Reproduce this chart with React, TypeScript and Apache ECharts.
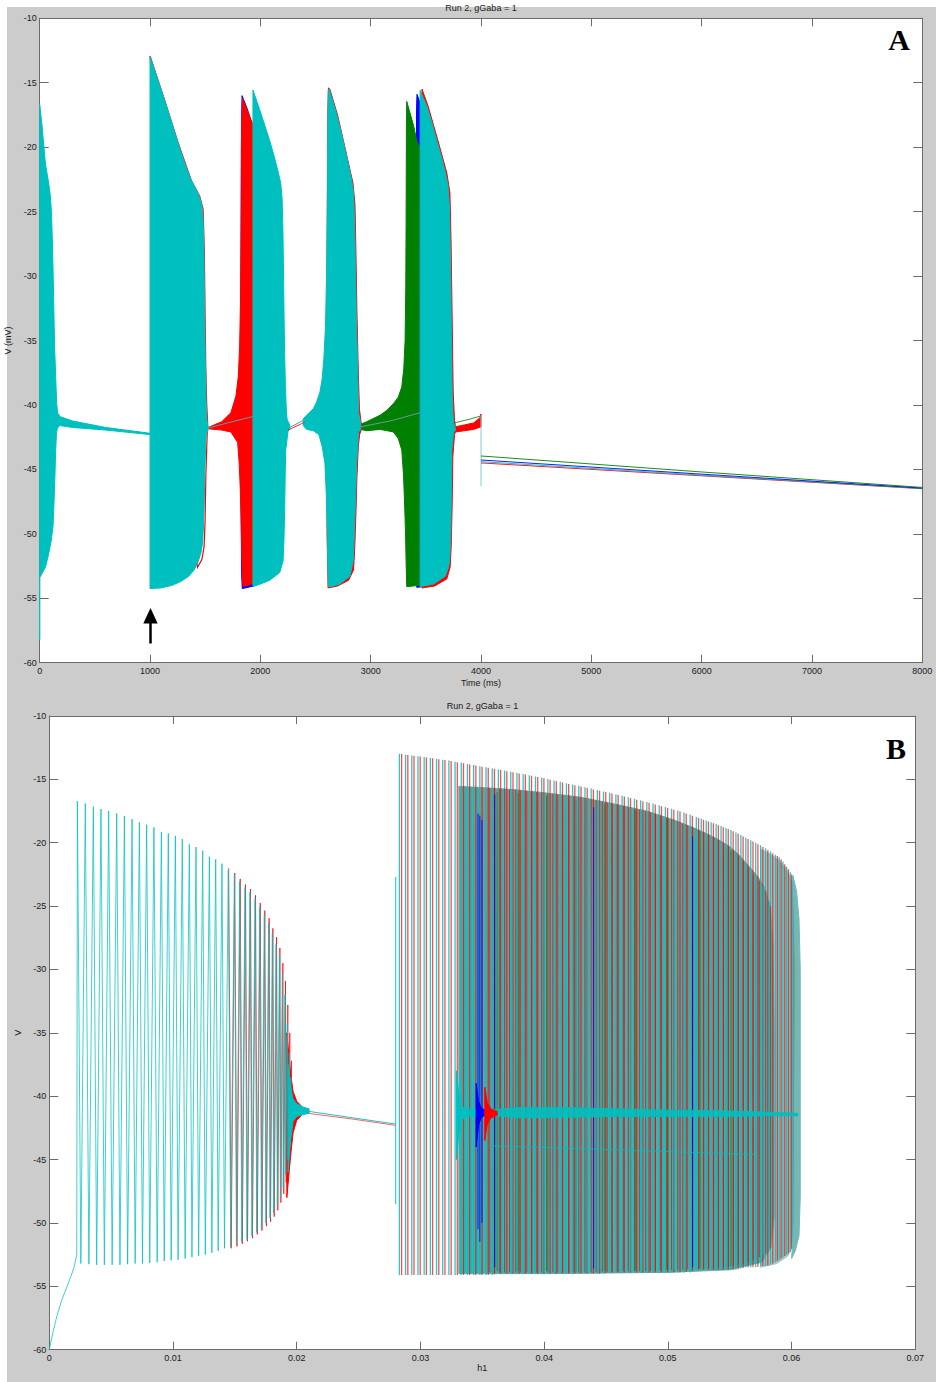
import React, { useEffect, useRef } from "react";
import * as echarts from "echarts";

const CYAN = "#00BFBF";
const RED = "#FF0000";
const BLUE = "#0000FF";
const GREEN = "#008000";
const AXIS = "#6b6b6b";
const TEXT = "#1a1a1a";
const FONT = "'Liberation Sans', Arial, Helvetica, sans-serif";

const TITLE = "Run 2, gGaba = 1";
const X_NAME_A = "Time (ms)";
const Y_NAME_A = "V (mV)";
const X_NAME_B = "h1";
const Y_NAME_B = "V";

// ---------------- Panel A : V vs time (burst envelopes, [t ms, V mV]) ----------------
const cyan1Upper = [[0,-16.7],[21,-18.3],[52,-21.3],[80,-22.7],[97,-23.8],[106,-25],[114,-27],[121,-29.5],[128,-32.5],[135,-35.5],[145,-37.8],[153,-39.8],[162,-40.6],[182,-40.9],[300,-41.25],[600,-41.75],[1000,-42.2]];
const cyan1Lower = [[0,-58.2],[0,-53.4],[20,-53.1],[52,-52.6],[80,-51.6],[103,-50.6],[121,-49.4],[130,-47.5],[138,-45.5],[145,-43.5],[152,-42.2],[160,-41.8],[182,-41.6],[300,-41.75],[600,-41.95],[1000,-42.3]];
const cyan2Upper = [[1000,-12.93],[1060,-14.5],[1127,-16.2],[1190,-17.9],[1248,-19.5],[1310,-21.1],[1370,-22.5],[1420,-23.3],[1450,-23.9],[1470,-24.5],[1481,-25.6],[1488,-27.8],[1492,-30.2],[1496,-33.5],[1500,-36.1],[1508,-39.5],[1515,-41.1],[1527,-41.7]];
const cyan2Lower = [[1000,-54.25],[1100,-54.2],[1200,-54.0],[1279,-53.7],[1350,-53.3],[1400,-52.8],[1430,-52.3],[1461,-51.5],[1475,-50.8],[1485,-49.4],[1492,-47.5],[1497,-45],[1503,-43.5],[1509,-42.3],[1527,-41.9]];
const red2Edge = [[1000,-12.93],[1130,-16.3],[1252,-19.6],[1375,-22.6],[1450,-23.8],[1481,-24.8],[1492,-28],[1499,-33],[1505,-37],[1514,-40],[1522,-41.3],[1515,-43],[1506,-45.5],[1499,-49],[1490,-51],[1470,-52],[1430,-52.6]];
const red3Upper = [[1527,-41.75],[1650,-41.3],[1733,-40.6],[1779,-39.3],[1800,-37.8],[1812,-35.5],[1820,-32],[1826,-25],[1830,-18.3],[1838,-16.2],[1880,-17.1],[1935,-18.3]];
const red3Lower = [[1527,-41.85],[1650,-41.95],[1733,-42.1],[1794,-42.9],[1808,-44.5],[1818,-46.5],[1824,-48.5],[1830,-51],[1836,-53.6],[1845,-54.1],[1935,-53.85]];
const blue3Upper = [[1822,-41],[1828,-20],[1834,-16.0],[1880,-17.0],[1940,-18.6]];
const blue3Lower = [[1822,-42],[1830,-53],[1836,-54.25],[1940,-54.05]];
const cyan4Upper = [[1933,-15.56],[1994,-17.1],[2040,-18.3],[2085,-19.5],[2125,-20.7],[2161,-21.9],[2185,-22.8],[2197,-24],[2204,-26.2],[2209,-29],[2214,-32.5],[2220,-36],[2227,-38.5],[2235,-40.3],[2242,-41.1],[2267,-41.6]];
const cyan4Lower = [[1933,-54.1],[2000,-53.9],[2085,-53.6],[2176,-53.0],[2206,-52.1],[2214,-50.5],[2221,-47.9],[2225,-45.5],[2230,-43.5],[2240,-42.8],[2252,-42.0],[2267,-41.9]];
const cyan5Upper = [[2388,-41.1],[2418,-40.8],[2480,-40.3],[2509,-39.8],[2540,-39],[2560,-38],[2575,-36.5],[2590,-34],[2600,-30],[2606,-24.2],[2610,-19],[2615,-15.6],[2624,-15.5],[2691,-17.4],[2740,-19.1],[2782,-20.7],[2820,-22.2],[2840,-23.2],[2850,-24.6],[2857,-27],[2864,-30.2],[2872,-34],[2879,-36.1],[2885,-38.5],[2891,-40.6],[2909,-41.4]];
const cyan5Lower = [[2388,-41.6],[2420,-41.9],[2480,-42.0],[2530,-42.3],[2560,-43.2],[2585,-44.5],[2598,-47],[2605,-49.5],[2610,-52],[2615,-54.1],[2640,-54.1],[2721,-53.9],[2812,-53.3],[2842,-52.1],[2850,-50.5],[2858,-48.5],[2866,-46.5],[2873,-44.5],[2880,-43.5],[2891,-42.1],[2909,-41.9]];
const red5Upper = [[2605,-30],[2612,-17],[2618,-15.4],[2630,-15.5],[2700,-17.5],[2790,-20.9],[2840,-22.8],[2858,-24.5],[2866,-28],[2876,-33],[2888,-37.5],[2898,-40.3],[2915,-41.5]];
const red5Lower = [[2605,-50],[2614,-54.2],[2700,-54.05],[2800,-53.6],[2845,-52.8],[2856,-51],[2866,-48.5],[2876,-45.5],[2888,-43.2],[2900,-42.3],[2915,-41.9]];
const green6Upper = [[2909,-41.5],[2964,-41.3],[3085,-40.8],[3150,-40.4],[3206,-39.9],[3250,-39.4],[3282,-38.6],[3300,-37.2],[3312,-35],[3318,-31],[3321,-26],[3324,-18.3],[3327,-16.45],[3388,-18.3],[3418,-19.5],[3440,-20]];
const green6Lower = [[2909,-41.9],[2964,-42.0],[3085,-41.9],[3150,-42.0],[3206,-42.1],[3250,-42.6],[3282,-43.5],[3298,-45.5],[3309,-48],[3316,-50],[3322,-52.5],[3327,-54.1],[3440,-54.0]];
const blue7Upper = [[3412,-30],[3416,-17],[3420,-15.9],[3445,-16.5],[3470,-17.2]];
const blue7Lower = [[3412,-50],[3418,-54.15],[3470,-54.1]];
const red7Upper = [[3465,-15.5],[3520,-16.8],[3610,-19.5],[3690,-22],[3718,-23.5],[3728,-27],[3738,-33],[3748,-39],[3760,-41.2],[3767,-41.6]];
const red7Lower = [[3465,-54.2],[3580,-54.05],[3690,-53.5],[3720,-52.6],[3730,-51],[3738,-48],[3745,-44],[3760,-42.3],[3767,-42.1]];
const cyan7Upper = [[3448,-15.6],[3509,-16.8],[3555,-18.1],[3600,-19.5],[3640,-20.7],[3676,-21.9],[3700,-22.9],[3712,-24.3],[3719,-26.5],[3725,-29.5],[3730,-33.1],[3735,-36.5],[3739,-39.1],[3746,-40.6],[3752,-41.4],[3767,-41.8]];
const cyan7Lower = [[3448,-54.1],[3570,-53.9],[3676,-53.3],[3706,-52.6],[3715,-52.1],[3725,-50.5],[3730,-47.9],[3733,-45.5],[3736,-43.5],[3742,-43],[3752,-42.1],[3767,-42.0]];
const redTailUpper = [[3767,-41.7],[3850,-41.55],[3933,-41.4],[3990,-41.0],[4000,-40.7]];
const redTailLower = [[3767,-42.1],[3850,-42.0],[3933,-41.9],[4000,-41.7]];

const cyanLinkA1 = [[1527,-41.8],[1700,-41.4],[1933,-40.9]];
const cyanLinkA2 = [[2267,-41.75],[2388,-41.2]];
const redLinkA2 = [[2250,-41.95],[2400,-41.35]];
const cyanLinkA3 = [[2909,-41.7],[3200,-41.2],[3448,-40.6]];
const greenTailA = [[3755,-41.4],[3900,-41.1],[4000,-40.85]];
const cyanStepA = [[4000,-40.8],[4000,-46.3]];
const greenLate = [[4000,-43.96],[6000,-45.2],[8000,-46.4]];
const blueLate = [[4000,-44.27],[6000,-45.37],[8000,-46.45]];
const redLate = [[4000,-44.5],[6000,-45.5],[8000,-46.5]];
const cyanLate = [[4000,-44.4],[6000,-45.45],[8000,-46.48]];

// ---------------- Panel B : V vs h1 ----------------
const leftInitial = [[0,-60],[0.0003,-58.6],[0.0006,-57.4],[0.001,-56.1],[0.0014,-55.1],[0.00175,-54.2],[0.002,-53.5],[0.00222,-52.5]];
const leftSpikeH = [0.00227,0.00291,0.00356,0.00418,0.0048,0.00545,0.00607,0.00669,0.00728,0.00787,0.00846,0.00906,0.00962,0.01019,0.01075,0.01132,0.01186,0.0124,0.01294,0.01345,0.01396,0.01447,0.01496,0.01539,0.01582,0.01622,0.01663,0.01701,0.01738,0.01773,0.01803,0.01833,0.0186,0.01884,0.01905,0.01924,0.0194,0.01952];
const leftSpikePeak = [-16.71,-16.89,-17.15,-17.34,-17.5,-17.68,-17.89,-18.13,-18.39,-18.58,-18.79,-19.15,-19.26,-19.47,-19.71,-20.13,-20.34,-20.63,-21.1,-21.31,-21.65,-22.15,-22.55,-23.07,-23.52,-23.91,-24.44,-25.09,-25.72,-26.33,-27.2,-28.01,-28.94,-30.36,-32.01,-34.25,-36.6,-38.5];
const leftTroughH = [0.00255,0.0032,0.00383,0.00445,0.00508,0.00571,0.00633,0.00694,0.00753,0.00812,0.00872,0.00929,0.00985,0.01041,0.01098,0.01153,0.01207,0.01261,0.01314,0.01365,0.01416,0.01466,0.01513,0.01556,0.01598,0.01638,0.01677,0.01715,0.01751,0.01784,0.01814,0.01843,0.01868,0.01891,0.01911,0.01929,0.01944,0.01956];
const leftTroughV = [-53.2,-53.25,-53.3,-53.3,-53.3,-53.3,-53.25,-53.2,-53.2,-53.15,-53.1,-53.0,-52.95,-52.9,-52.8,-52.7,-52.6,-52.5,-52.35,-52.2,-52.0,-51.85,-51.7,-51.5,-51.3,-51.0,-50.7,-50.4,-50.0,-49.6,-49.2,-48.6,-48.0,-47.2,-46.2,-45.0,-43.8,-42.8];
const leftRedSpikeH = [0.0145,0.01499,0.01543,0.01586,0.01626,0.01667,0.01705,0.01742,0.01777,0.01807,0.01837,0.01864,0.01888,0.01909,0.01928,0.01944,0.01957];
const leftRedPeak = [-22.0,-22.4,-22.85,-23.3,-23.65,-24.15,-24.75,-25.35,-25.95,-26.75,-27.45,-28.3,-29.5,-30.9,-32.8,-35.0,-37.2];
const leftRedTroughH = [0.0147,0.01517,0.0156,0.01602,0.01642,0.01681,0.01719,0.01755,0.01788,0.01818,0.01847,0.01872,0.01895,0.01915,0.01933,0.01948,0.0196];
const leftRedTroughV = [-52.0,-51.85,-51.65,-51.45,-51.2,-50.9,-50.6,-50.25,-49.9,-49.5,-49.0,-48.4,-47.7,-46.8,-45.8,-44.6,-43.6];
const cyanSpindleLUpper = [[0.0193,-37.5],[0.0195,-39.2],[0.0197,-40.2],[0.02,-40.6],[0.0205,-40.85],[0.021,-41.0]];
const cyanSpindleLLower = [[0.0193,-46],[0.0195,-43.5],[0.0197,-42.0],[0.02,-41.6],[0.0205,-41.45],[0.021,-41.35]];
const redSpindleLUpper = [[0.0192,-35],[0.0195,-38.2],[0.0197,-39.6],[0.02,-40.4],[0.0204,-40.8]];
const redSpindleLLower = [[0.0192,-48],[0.0195,-44.8],[0.0197,-42.9],[0.02,-41.9],[0.0204,-41.5]];
const cyanLinkB = [[0.021,-41.2],[0.0245,-41.7],[0.028,-42.2]];
const redLinkB = [[0.0205,-41.3],[0.0245,-41.8],[0.028,-42.3]];
const cyanStepB = [[0.028,-22.7],[0.028,-48.5]];

// outer burst spikes [h1, peak V, trough V]
const outerCyan = [[0.0283,-12.98,-54.1],[0.0288,-13.05,-54.1],[0.0293,-13.11,-54.1],[0.0298,-13.17,-54.1],[0.0303,-13.24,-54.1],[0.0308,-13.31,-54.1],[0.0313,-13.38,-54.1],[0.0318,-13.45,-54.1],[0.0323,-13.52,-54.1],[0.0328,-13.6,-54.1],[0.0333,-13.69,-54.1],[0.0338,-13.78,-54.1],[0.0343,-13.87,-54.1],[0.0348,-13.96,-54.1],[0.0353,-14.05,-54.1],[0.0358,-14.13,-54.1],[0.0363,-14.22,-54.0],[0.0368,-14.3,-54.0],[0.0373,-14.39,-54.0],[0.0378,-14.48,-54.0],[0.0383,-14.57,-54.0],[0.0388,-14.67,-54.0],[0.0393,-14.77,-54.0],[0.0398,-14.86,-54.0],[0.0403,-14.97,-54.0],[0.0408,-15.08,-54.0],[0.0413,-15.19,-54.0],[0.0418,-15.3,-54.0],[0.0423,-15.41,-54.0],[0.0428,-15.51,-54.0],[0.0433,-15.62,-54.0],[0.0438,-15.73,-54.0],[0.0443,-15.84,-54.0],[0.0448,-15.95,-54.0],[0.0453,-16.05,-53.9],[0.0458,-16.17,-53.9],[0.0463,-16.29,-53.9],[0.0468,-16.41,-53.9],[0.0473,-16.53,-53.9],[0.0478,-16.65,-53.9],[0.0483,-16.78,-53.9],[0.0488,-16.91,-53.9],[0.0493,-17.05,-53.9],[0.0498,-17.18,-53.9],[0.0503,-17.31,-53.9],[0.0508,-17.45,-53.9],[0.0513,-17.61,-53.9],[0.0518,-17.78,-53.9],[0.0523,-17.96,-53.7],[0.0527,-18.09,-53.7],[0.0531,-18.24,-53.7],[0.0535,-18.39,-53.7],[0.0539,-18.53,-53.7],[0.0543,-18.68,-53.7],[0.0547,-18.83,-53.7],[0.0551,-18.99,-53.7],[0.0555,-19.19,-53.7],[0.0559,-19.39,-53.6],[0.0563,-19.6,-53.5],[0.0567,-19.8,-53.5],[0.0571,-20.0,-53.5],[0.0575,-20.2,-53.4],[0.0579,-20.43,-53.4],[0.0583,-20.69,-53.3],[0.0587,-20.94,-53.1],[0.059,-21.14,-52.9],[0.0593,-21.48,-52.7],[0.0596,-21.9,-52.5],[0.0599,-22.32,-52.3],[0.0601,-22.6,-52.0],[0.0603,-23.4,-51.6]];
const outerRed = [[0.02848,-13.0,-54.1],[0.02898,-13.07,-54.1],[0.02948,-13.13,-54.1],[0.02998,-13.2,-54.1],[0.03048,-13.27,-54.1],[0.03098,-13.34,-54.1],[0.03148,-13.41,-54.1],[0.03198,-13.48,-54.1],[0.03248,-13.56,-54.1],[0.03298,-13.64,-54.1],[0.03348,-13.73,-54.1],[0.03398,-13.82,-54.1],[0.03448,-13.91,-54.1],[0.03498,-14.0,-54.1],[0.03548,-14.09,-54.1],[0.03598,-14.17,-54.05],[0.03648,-14.26,-54.0],[0.03698,-14.35,-54.0],[0.03748,-14.44,-54.0],[0.03798,-14.53,-54.0],[0.03848,-14.62,-54.0],[0.03898,-14.72,-54.0],[0.03948,-14.82,-54.0],[0.03998,-14.92,-54.0],[0.04048,-15.03,-54.0],[0.04098,-15.14,-54.0],[0.04148,-15.25,-54.0],[0.04198,-15.36,-54.0],[0.04248,-15.46,-54.0],[0.04298,-15.57,-54.0],[0.04348,-15.68,-54.0],[0.04398,-15.79,-54.0],[0.04448,-15.9,-54.0],[0.04498,-16.0,-53.95],[0.04548,-16.12,-53.9],[0.04598,-16.24,-53.9],[0.04648,-16.36,-53.9],[0.04698,-16.48,-53.9],[0.04748,-16.6,-53.9],[0.04798,-16.72,-53.9],[0.04848,-16.85,-53.9],[0.04898,-16.99,-53.9],[0.04948,-17.12,-53.9],[0.04998,-17.25,-53.9],[0.05048,-17.39,-53.9],[0.05098,-17.53,-53.9],[0.05148,-17.7,-53.85],[0.05198,-17.87,-53.8],[0.05248,-18.04,-53.7],[0.05288,-18.18,-53.7],[0.05328,-18.33,-53.7],[0.05368,-18.47,-53.7],[0.05408,-18.62,-53.7],[0.05448,-18.77,-53.7],[0.05488,-18.92,-53.7],[0.05528,-19.1,-53.7],[0.05568,-19.3,-53.65],[0.05608,-19.5,-53.55],[0.05648,-19.71,-53.5],[0.05688,-19.91,-53.5],[0.05728,-20.11,-53.45],[0.05768,-20.33,-53.4],[0.05808,-20.58,-53.35],[0.05848,-20.83,-53.2],[0.05885,-21.05,-53.0],[0.05915,-21.3,-52.8],[0.05945,-21.7,-52.6],[0.05975,-22.1,-52.4],[0.06,-22.5,-52.1],[0.0602,-23.0,-51.8]];
// later bursts (dense block) spikes [h1, peak V, trough V]
const innerRed = [[0.0356,-15.68,-53.9],[0.036,-15.7,-53.9],[0.0364,-15.72,-53.9],[0.0368,-15.75,-53.9],[0.0372,-15.78,-53.9],[0.0377,-15.82,-53.9],[0.0381,-15.85,-53.9],[0.0386,-15.9,-53.9],[0.039,-15.95,-53.9],[0.0394,-15.99,-53.9],[0.0398,-16.03,-53.9],[0.0403,-16.08,-53.9],[0.0407,-16.13,-53.9],[0.0411,-16.18,-53.9],[0.0415,-16.23,-53.9],[0.042,-16.29,-53.9],[0.0424,-16.34,-53.9],[0.0428,-16.4,-53.9],[0.0433,-16.47,-53.9],[0.0438,-16.56,-53.9],[0.0442,-16.64,-53.9],[0.0447,-16.73,-53.85],[0.0451,-16.82,-53.85],[0.0455,-16.9,-53.85],[0.0459,-16.98,-53.85],[0.0464,-17.09,-53.8],[0.0468,-17.18,-53.8],[0.0473,-17.29,-53.8],[0.0477,-17.38,-53.8],[0.0482,-17.5,-53.8],[0.0486,-17.6,-53.8],[0.049,-17.72,-53.75],[0.0494,-17.85,-53.75],[0.0499,-18.0,-53.7],[0.0503,-18.13,-53.7],[0.0508,-18.3,-53.7],[0.0512,-18.47,-53.7],[0.0516,-18.63,-53.65],[0.052,-18.8,-53.65],[0.0525,-18.98,-53.6],[0.0529,-19.15,-53.6],[0.0533,-19.35,-53.6],[0.0537,-19.55,-53.6],[0.0541,-19.77,-53.5],[0.0545,-20.0,-53.5],[0.0549,-20.3,-53.45],[0.0553,-20.6,-53.4],[0.0557,-21.0,-53.3],[0.0561,-21.45,-53.2],[0.0565,-22.0,-53.1],[0.0569,-22.5,-52.9],[0.0574,-23.0,-52.7],[0.0579,-23.8,-52.4],[0.0583,-25.0,-52.0]];
const innerCyan = [[0.0336,-15.58,-53.9],[0.0341,-15.6,-53.9],[0.0346,-15.63,-53.9],[0.0358,-15.69,-53.9],[0.0366,-15.74,-53.9],[0.0374,-15.8,-53.9],[0.0383,-15.88,-53.9],[0.0392,-15.97,-53.9],[0.04,-16.06,-53.9],[0.0409,-16.16,-53.9],[0.0417,-16.26,-53.9],[0.0426,-16.37,-53.9],[0.0435,-16.51,-53.9],[0.0444,-16.68,-53.85],[0.0453,-16.86,-53.85],[0.0461,-17.03,-53.8],[0.047,-17.23,-53.8],[0.0479,-17.44,-53.8],[0.0488,-17.66,-53.75],[0.0496,-17.92,-53.7],[0.0505,-18.22,-53.7],[0.0514,-18.55,-53.65],[0.0522,-18.9,-53.6],[0.0531,-19.25,-53.6],[0.0539,-19.66,-53.5],[0.0547,-20.15,-53.45],[0.0555,-20.8,-53.3],[0.0563,-21.7,-53.1],[0.0571,-22.7,-52.8],[0.0577,-23.5,-52.5],[0.0582,-24.6,-52.1]];
const innerGreen = [[0.0362,-16.0,-53.8],[0.0379,-16.1,-53.8],[0.0402,-16.3,-53.8],[0.0426,-16.6,-53.8],[0.0449,-16.95,-53.8],[0.0474,-17.4,-53.75],[0.05,-18.1,-53.7],[0.0526,-19.1,-53.6],[0.0551,-20.6,-53.4]];
const innerBlue = [[0.03465,-17.7,-50.5],[0.0348,-17.85,-51.5],[0.03497,-18.2,-50],[0.036,-16.2,-53.5],[0.044,-17.2,-53.6],[0.052,-19.5,-53.5]];
const innerBlock = [[0.0331,-15.55],[0.035,-15.65],[0.0375,-15.8],[0.04,-16.05],[0.0429,-16.4],[0.0455,-16.9],[0.0483,-17.5],[0.0505,-18.2],[0.0523,-18.9],[0.054,-19.7],[0.055,-20.3],[0.0558,-21.0],[0.0566,-21.9],[0.0573,-22.7],[0.0579,-23.7],[0.0583,-25.3],[0.0585,-28],[0.0586,-35],[0.0586,-49.5],[0.0583,-52],[0.0576,-53.1],[0.055,-53.7],[0.05,-53.9],[0.04,-54.0],[0.0331,-54.0]];
const rightStrip = [[0.0575,-20.5],[0.0583,-20.9],[0.059,-21.4],[0.0596,-22.1],[0.06,-23],[0.0603,-24.5],[0.0604,-30],[0.0604,-48],[0.0602,-51.3],[0.0597,-52.6],[0.0588,-53.2],[0.0575,-53.5]];
const rightEdge = [[0.0601,-22.6],[0.0604,-23.8],[0.0606,-26],[0.0607,-30],[0.0607,-48],[0.0606,-51],[0.0603,-52.2],[0.06,-52.8],[0.0602,-50],[0.0603,-30],[0.0602,-25]];
const cyanBandUpper = [[0.0333,-41.0],[0.036,-41.05],[0.038,-40.9],[0.042,-40.9],[0.046,-41.0],[0.05,-41.1],[0.054,-41.15],[0.058,-41.25],[0.0605,-41.35]];
const cyanBandLower = [[0.0333,-41.6],[0.036,-41.55],[0.038,-41.7],[0.042,-41.65],[0.046,-41.6],[0.05,-41.6],[0.054,-41.6],[0.058,-41.55],[0.0605,-41.55]];
const cyanSpindleRUpper = [[0.0329,-38.0],[0.0331,-39.8],[0.0333,-40.7],[0.0336,-41.0],[0.0342,-41.2]];
const cyanSpindleRLower = [[0.0329,-45.0],[0.0331,-43.0],[0.0333,-42.0],[0.0336,-41.6],[0.0342,-41.4]];
const blueSpindleUpper = [[0.0345,-39.0],[0.0347,-40.4],[0.0349,-40.9],[0.0352,-41.1]];
const blueSpindleLower = [[0.0345,-44.0],[0.0347,-42.3],[0.0349,-41.7],[0.0352,-41.5]];
const redSpindleRUpper = [[0.0352,-39.3],[0.0354,-40.5],[0.0357,-41.0],[0.0362,-41.2]];
const redSpindleRLower = [[0.0352,-43.5],[0.0354,-42.2],[0.0357,-41.7],[0.0362,-41.5]];
const cyanFaintB = [[0.0355,-43.9],[0.045,-44.2],[0.057,-44.6]];

// ---------------- helpers ----------------
const band = (upper: number[][], lower: number[][]) => upper.concat(lower.slice().reverse());

function polySeries(name: string, xi: number, yi: number, pts: number[][], fill: any, stroke: string, z: number, lw = 1, opacity = 1) {
  return {
    type: "custom", name, xAxisIndex: xi, yAxisIndex: yi, z, silent: true,
    data: pts,
    renderItem: (params: any, api: any) => {
      if (params.dataIndex !== 0) return { type: "group", children: [] };
      return {
        type: "polygon",
        shape: { points: pts.map((p) => api.coord(p)) },
        style: { fill, stroke, lineWidth: lw, opacity },
      };
    },
  };
}

function spikeSeries(name: string, xi: number, yi: number, data: number[][], color: string, lw: number, opacity: number, z: number) {
  return {
    type: "custom", name, xAxisIndex: xi, yAxisIndex: yi, z, silent: true,
    data,
    renderItem: (params: any, api: any) => {
      const top = api.coord([api.value(0), api.value(1)]);
      const bot = api.coord([api.value(0), api.value(2)]);
      return { type: "line", shape: { x1: top[0], y1: top[1], x2: bot[0], y2: bot[1] }, style: { stroke: color, lineWidth: lw, opacity } };
    },
  };
}

function lineSeries(name: string, xi: number, yi: number, data: number[][], color: string, lw = 1, opacity = 1, z = 5) {
  return {
    type: "line", name, xAxisIndex: xi, yAxisIndex: yi, z, data, silent: true,
    showSymbol: false, symbol: "none",
    lineStyle: { color, width: lw, opacity }, itemStyle: { color },
  };
}

function trajectory(h: number[], peak: number[], th: number[], tv: number[]) {
  const out: number[][] = [];
  for (let i = 0; i < h.length; i++) {
    out.push([h[i], peak[i]]);
    out.push([th[i], tv[i]]);
  }
  return out;
}

function mainAxis(gridIndex: number, min: number, max: number, interval: number, position: string, name: string, nameGap: number, tickLen: number, margin: number, vertical: boolean, formatter?: any) {
  return {
    type: "value", gridIndex, min, max, interval, position,
    axisLine: { show: true, onZero: false, lineStyle: { color: AXIS, width: 1 } },
    axisTick: { show: true, inside: true, length: tickLen, lineStyle: { color: AXIS } },
    axisLabel: { show: true, fontSize: 9, color: TEXT, fontFamily: FONT, margin, formatter, hideOverlap: false },
    splitLine: { show: false },
    name, nameLocation: "middle", nameGap, nameRotate: vertical ? 90 : 0,
    nameTextStyle: { fontSize: 9, color: TEXT, fontFamily: FONT },
  };
}
function boxAxis(gridIndex: number, min: number, max: number, interval: number, position: string, tickLen: number) {
  return {
    type: "value", gridIndex, min, max, interval, position,
    axisLine: { show: true, onZero: false, lineStyle: { color: AXIS, width: 1 } },
    axisTick: { show: true, inside: true, length: tickLen, lineStyle: { color: AXIS } },
    axisLabel: { show: false },
    splitLine: { show: false },
  };
}

function buildOption() {
  const fmtA = (v: number) => String(v);
  const fmtB = (v: number) => (v === 0 ? "0" : v.toFixed(2));
  const innerGrad = new echarts.graphic.LinearGradient(0, 0, 0, 1, [
    { offset: 0, color: "#729d98" },
    { offset: 0.3, color: "#5aa6a3" },
    { offset: 0.7, color: "#45b0ad" },
    { offset: 1, color: "#3bb6b3" },
  ]);
  const leftCyan = leftInitial.concat(trajectory(leftSpikeH, leftSpikePeak, leftTroughH, leftTroughV));
  const leftRed = trajectory(leftRedSpikeH, leftRedPeak, leftRedTroughH, leftRedTroughV);

  const series: any[] = [
    // Panel A
    polySeries("A blue 3", 0, 0, band(blue3Upper, blue3Lower), BLUE, BLUE, 2),
    polySeries("A blue 7", 0, 0, band(blue7Upper, blue7Lower), BLUE, BLUE, 2),
    polySeries("A green 6", 0, 0, band(green6Upper, green6Lower), GREEN, GREEN, 3),
    polySeries("A red 2", 0, 0, red2Edge, "none", RED, 3, 1.2),
    polySeries("A red 3", 0, 0, band(red3Upper, red3Lower), RED, RED, 4),
    polySeries("A red 5", 0, 0, band(red5Upper, red5Lower), RED, RED, 4),
    polySeries("A red 7", 0, 0, band(red7Upper, red7Lower), RED, RED, 4),
    polySeries("A red tail", 0, 0, band(redTailUpper, redTailLower), RED, RED, 4),
    polySeries("A cyan 1", 0, 0, band(cyan1Upper, cyan1Lower), CYAN, CYAN, 5),
    polySeries("A cyan 2", 0, 0, band(cyan2Upper, cyan2Lower), CYAN, CYAN, 5),
    polySeries("A cyan 4", 0, 0, band(cyan4Upper, cyan4Lower), CYAN, CYAN, 5),
    polySeries("A cyan 5", 0, 0, band(cyan5Upper, cyan5Lower), CYAN, CYAN, 5),
    polySeries("A cyan 7", 0, 0, band(cyan7Upper, cyan7Lower), CYAN, CYAN, 5),
    lineSeries("A link 1", 0, 0, cyanLinkA1, "#6a9a9a", 1, 1, 6),
    lineSeries("A link 2 red", 0, 0, redLinkA2, RED, 1, 0.8, 6),
    lineSeries("A link 2", 0, 0, cyanLinkA2, "#6a8fa0", 1, 1, 6),
    lineSeries("A link 3", 0, 0, cyanLinkA3, "#6a9a9a", 1, 1, 6),
    lineSeries("A green tail", 0, 0, greenTailA, GREEN, 1, 0.8, 6),
    lineSeries("A step", 0, 0, cyanStepA, "#7fd0d0", 1, 1, 6),
    lineSeries("A red late", 0, 0, redLate, RED, 1, 0.9, 6),
    lineSeries("A cyan late", 0, 0, cyanLate, CYAN, 1, 0.9, 6),
    lineSeries("A blue late", 0, 0, blueLate, BLUE, 1, 0.9, 6),
    lineSeries("A green late", 0, 0, greenLate, GREEN, 1, 0.9, 6),

    // Panel B
    polySeries("B right strip", 2, 2, rightStrip, "#a3c8c5", "#a3c8c5", 1),
    polySeries("B inner block", 2, 2, innerBlock, innerGrad, "#6f9a96", 2, 0.8),
    spikeSeries("B outer red", 2, 2, outerRed, RED, 1.3, 0.7, 3),
    spikeSeries("B outer cyan", 2, 2, outerCyan, CYAN, 1.3, 0.85, 4),
    polySeries("B right edge", 2, 2, rightEdge, "#74b8b5", "#74b8b5", 4),
    spikeSeries("B inner green", 2, 2, innerGreen, GREEN, 1, 0.7, 5),
    spikeSeries("B inner red", 2, 2, innerRed, RED, 1, 0.7, 5),
    spikeSeries("B inner cyan", 2, 2, innerCyan, CYAN, 1.3, 0.75, 5),
    spikeSeries("B inner blue", 2, 2, innerBlue, BLUE, 1.1, 0.8, 6),
    lineSeries("B cyan faint", 2, 2, cyanFaintB, CYAN, 1, 0.7, 6),
    polySeries("B cyan band", 2, 2, band(cyanBandUpper, cyanBandLower), CYAN, CYAN, 7, 1, 0.9),
    polySeries("B cyan spindle R", 2, 2, band(cyanSpindleRUpper, cyanSpindleRLower), CYAN, CYAN, 7),
    polySeries("B blue spindle", 2, 2, band(blueSpindleUpper, blueSpindleLower), BLUE, BLUE, 8),
    polySeries("B red spindle R", 2, 2, band(redSpindleRUpper, redSpindleRLower), RED, RED, 8),
    lineSeries("B red left", 2, 2, leftRed, RED, 1, 0.7, 3),
    polySeries("B red spindle L", 2, 2, band(redSpindleLUpper, redSpindleLLower), RED, RED, 3),
    lineSeries("B red link", 2, 2, redLinkB, RED, 1, 0.6, 3),
    lineSeries("B cyan left", 2, 2, leftCyan, CYAN, 1, 0.75, 4),
    polySeries("B cyan spindle L", 2, 2, band(cyanSpindleLUpper, cyanSpindleLLower), CYAN, CYAN, 4),
    lineSeries("B cyan link", 2, 2, cyanLinkB, CYAN, 1, 0.9, 4),
    lineSeries("B cyan step", 2, 2, cyanStepB, CYAN, 1, 0.9, 4),
  ];

  return {
    animation: false,
    backgroundColor: "transparent",
    textStyle: { fontFamily: FONT },
    grid: [
      { left: 39.7, top: 18.3, width: 882.6, height: 644.4, show: true, backgroundColor: "#ffffff", borderWidth: 0, containLabel: false, outerBoundsMode: "none" },
      { left: 49.3, top: 716, width: 866, height: 633.7, show: true, backgroundColor: "#ffffff", borderWidth: 0, containLabel: false, outerBoundsMode: "none" },
    ],
    xAxis: [
      mainAxis(0, 0, 8000, 1000, "bottom", X_NAME_A, 16, 8, 4, false, fmtA),
      boxAxis(0, 0, 8000, 1000, "top", 8),
      mainAxis(1, 0, 0.07, 0.01, "bottom", X_NAME_B, 14, 8, 4, false, fmtB),
      boxAxis(1, 0, 0.07, 0.01, "top", 8),
    ],
    yAxis: [
      mainAxis(0, -60, -10, 5, "left", Y_NAME_A, 22, 9, 3, true),
      boxAxis(0, -60, -10, 5, "right", 9),
      mainAxis(1, -60, -10, 5, "left", Y_NAME_B, 23, 9, 3, true),
      boxAxis(1, -60, -10, 5, "right", 9),
    ],
    graphic: [
      { type: "text", x: 481, y: 8, style: { text: TITLE, fontSize: 9, fontFamily: FONT, fill: TEXT, align: "center", verticalAlign: "middle" } },
      { type: "text", x: 482.5, y: 706, style: { text: TITLE, fontSize: 9, fontFamily: FONT, fill: TEXT, align: "center", verticalAlign: "middle" } },
      { type: "text", x: 899, y: 39, style: { text: "A", fontSize: 30, fontWeight: "bold", fontFamily: "'Liberation Serif', 'Times New Roman', serif", fill: "#000", align: "center", verticalAlign: "middle" } },
      { type: "text", x: 896, y: 748, style: { text: "B", fontSize: 30, fontWeight: "bold", fontFamily: "'Liberation Serif', 'Times New Roman', serif", fill: "#000", align: "center", verticalAlign: "middle" } },
      { type: "polygon", shape: { points: [[150.5, 608], [143.3, 623.5], [157.7, 623.5]] }, style: { fill: "#000" } },
      { type: "line", shape: { x1: 150.5, y1: 622, x2: 150.5, y2: 643.5 }, style: { stroke: "#000", lineWidth: 2.5 } },
    ],
    series,
  };
}

export default function App() {
  const ref = useRef<HTMLDivElement>(null);
  useEffect(() => {
    if (!ref.current) return;
    const chart = echarts.init(ref.current, undefined, { renderer: "svg" });
    chart.setOption(buildOption() as any);
    return () => chart.dispose();
  }, []);
  return (
    <div style={{ position: "absolute", left: 0, top: 0, width: 936, height: 1382, background: "#ffffff" }}>
      <div style={{ position: "absolute", left: 7, top: 7, width: 929, height: 1375, background: "#cccccc" }} />
      <div ref={ref} style={{ position: "absolute", left: 0, top: 0, width: 936, height: 1382 }} />
    </div>
  );
}
